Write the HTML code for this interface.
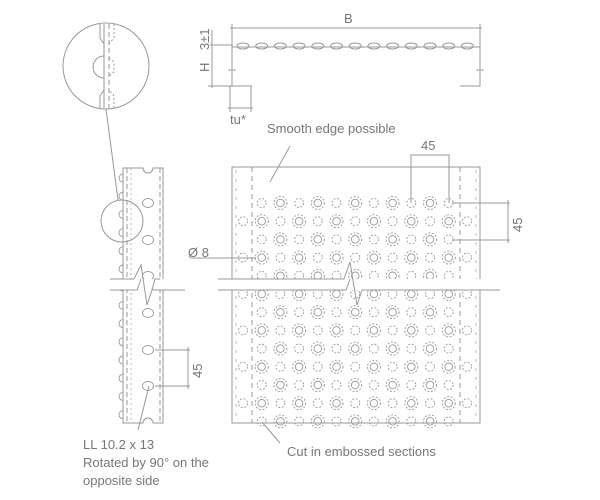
<!DOCTYPE html>
<html><head><meta charset="utf-8"><style>
html,body{margin:0;padding:0;background:#fff;width:600px;height:500px;overflow:hidden}
svg{display:block}
text{font-family:"Liberation Sans",sans-serif;fill:#777;font-size:13px}
</style></head><body>
<svg id="s" width="600" height="500" viewBox="0 0 600 500" xmlns="http://www.w3.org/2000/svg">
<g stroke="#999" stroke-width="1" fill="none">
<!-- top profile -->
<path d="M252 86 H232 V47 H480 V86 H460"/>
<path d="M210 45 H232"/>
<g id="bumps"></g>
<!-- B dim -->
<path d="M230 28 H482 M232 24 V47 M480 24 V47"/>
<!-- left dims -->
<path d="M212 30 V88 M208 86 H236"/>
<path d="M228 70 H236 M476 70 H484"/>
<!-- tu dims -->
<path d="M230 86 V112 M251 86 V112 M228 108 H253"/>
<!-- main panel -->
<rect x="232" y="167" width="248" height="256"/>
<path d="M252 167 V423 M460 167 V423" stroke-dasharray="5,4"/>
<path d="M236 170 V420 M476 170 V420" stroke-dasharray="3,6" stroke="#bbb"/>
<!-- leaders -->
<path d="M290 146 L270 182"/>
<path d="M280 443 L262 422"/>
<path d="M411 203 V155 H449 V203"/>
<path d="M452 203 H510 M452 240 H510 M508 200 V243"/>
<path d="M190 258 H256"/>
<!-- left strip -->
<path d="M123 168 H143 A5 5 0 0 0 153 168 H163 V423 H153 A5 5 0 0 0 143 423 H123 Z"/>
<path d="M127 168 V423" stroke-dasharray="5,3"/>
<path d="M160 168 V423" stroke-dasharray="5,3"/>
<path d="M131 168 V423" stroke-dasharray="2,3" stroke="#bbb"/>
<circle cx="122" cy="221" r="21"/>
<circle cx="106" cy="66" r="43"/>
<path d="M106 109 L118 200"/>
<path d="M104 24 V108"/>
<path d="M109 24 V108" stroke-dasharray="5,3"/>
<path d="M100 24 V38 L104 44 M100 108 V96 L104 90 M104 56 A6 6 0 0 0 104 78"/>
<path d="M114 24 V38 L109 44 M114 108 V96 L109 90 M109 58 L114 62 V72 L109 76" stroke-dasharray="2,2"/>
<path d="M149 386 L138 430"/>
<path d="M155 350 H190 M155 386 H190 M188 347 V389"/>
</g>
<g id="g" stroke="#999" stroke-width="0.9" fill="none"></g>
<!-- break bands -->
<g fill="#fff" stroke="none"><rect x="105" y="279" width="85" height="11"/><rect x="212" y="279" width="290" height="11"/></g>
<g stroke="#999" fill="none">
<path d="M110 279 H134 L141 265 L147 305 L152 290 H185"/>
<path d="M110 290 H137 L141 279"/>
<path d="M152 290 L155 279 H160"/>
<path d="M218 279 H344 L350 262 L357 305 L362 290 H500"/>
<path d="M218 290 H346 L350 279"/>
</g>
<text x="344" y="23">B</text>
<text transform="translate(209,50) rotate(-90)" font-size="12">3±1</text>
<text transform="translate(209,72) rotate(-90)" font-size="12">H</text>
<text x="230" y="124">tu*</text>
<text x="267" y="133">Smooth edge possible</text>
<text x="421" y="150">45</text>
<text transform="translate(522,232) rotate(-90)">45</text>
<text x="188" y="257">Ø 8</text>
<text transform="translate(202,378) rotate(-90)">45</text>
<text x="287" y="456">Cut in embossed sections</text>
<text x="83" y="449">LL 10.2 x 13</text>
<text x="83" y="467">Rotated by 90° on the</text>
<text x="83" y="485">opposite side</text>
</svg>
<script>
var g=document.getElementById('g'),h='';
function c(x,y,r,d){h+='<circle cx="'+x+'" cy="'+y+'" r="'+r+'"'+(d?' stroke-dasharray="2,1.6"':'')+'/>';}
for(var k=0;k<13;k++){var y=203+k*18.2;
 for(var i=0;i<11;i++){var x=261.7+i*18.7;var dbl=(k%2==0)?(i%2==1):(i%2==0);
  if(dbl){c(x,y,3.8);c(x,y,6.5,1);}else c(x,y,4.5,1);}
 if(k%2==1){c(243,y,4.5,1);c(467,y,4.5,1);}}
[203,240,276,313,350,386].forEach(function(y){h+='<ellipse cx="148" cy="'+y+'" rx="5.5" ry="4.5"/>';});
for(var y=178;y<420;y+=18.2){h+='<path d="M123 '+(y-4)+' A4 4 0 0 0 123 '+(y+4)+'"/>';}
g.innerHTML=h;
var b='';for(var n=0;n<13;n++){var x=243+n*18.7;b+='<ellipse cx="'+x+'" cy="46" rx="6" ry="3"/>';}
document.getElementById('bumps').innerHTML=b;
</script>
</body></html>
